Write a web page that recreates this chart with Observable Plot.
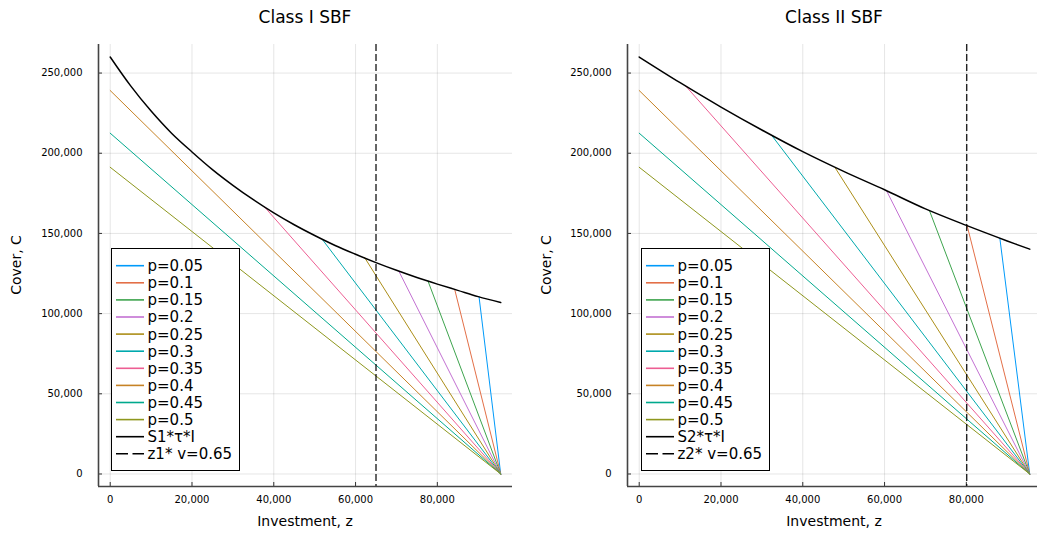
<!DOCTYPE html>
<html><head><meta charset="utf-8">
<script src="https://cdn.jsdelivr.net/npm/d3@7"></script>
<script src="https://cdn.jsdelivr.net/npm/@observablehq/plot@0.6"></script>
<style>
html,body{margin:0;padding:0;background:#fff;overflow:hidden;}
#wrap{position:relative;width:1037px;height:534px;overflow:hidden;font-family:"DejaVu Sans",sans-serif;color:#000;background:#fff;}
.abs{position:absolute;}
.title{font-size:17px;transform:translate(-50%,-50%);white-space:nowrap;}
.xlab{font-size:14px;transform:translate(-50%,-50%);white-space:nowrap;}
.ylab{font-size:14px;transform:translate(-50%,-50%) rotate(-90deg);white-space:nowrap;}
.legend{background:#fff;border:1px solid #000;box-sizing:border-box;}
</style></head><body><div id="wrap"></div>
<script>
// ---- data ----
const pLabels = ["p=0.05","p=0.1","p=0.15","p=0.2","p=0.25","p=0.3","p=0.35","p=0.4","p=0.45","p=0.5"];
const zEnd = 95500;
// Class I: start points of each p line (on or below the S1*τ*I curve)
const startZ1 = [90200, 84250, 77700, 70600, 62200, 52000, 37700, 0, 0, 0];
const startC1 = [110400, 115000, 120400, 126400, 135000, 145800, 166600, 239100, 212500, 191250];
// Class II
const startZ2 = [88200, 80200, 71000, 60500, 48000, 32500, 11300, 0, 0, 0];
const startC2 = [146900, 154800, 164100, 176500, 190600, 210800, 242100, 239100, 212500, 191250];
// Black curves S1*τ*I and S2*τ*I
const curveZ1 = [0, 5000, 10000, 15000, 20000, 25000, 30000, 35000, 40000, 45000, 50000, 55000, 60000, 65000, 70000, 75000, 80000, 85000, 90000, 95500];
const curveC1 = [260000, 242000, 226300, 212500, 200800, 189800, 180000, 171000, 162800, 155400, 148700, 142500, 137000, 131800, 127000, 122500, 118400, 114500, 110600, 106900];
const curveZ2 = [0, 10000, 20000, 30000, 40000, 50000, 60000, 70000, 80000, 90000, 95500];
const curveC2 = [260000, 244000, 228800, 214500, 201000, 188700, 177200, 165300, 155000, 145300, 140200];
const zStar1 = 65000, zStar2 = 80100;
const curveLabel1 = "S1*τ*I", curveLabel2 = "S2*τ*I";
const starLabel1 = "z1* v=0.65", starLabel2 = "z2* v=0.65";
const titles = ["Class I SBF", "Class II SBF"];
const xTicks = [0, 20000, 40000, 60000, 80000];
const yTicks = [0, 50000, 100000, 150000, 200000, 250000];

// ---- styles ----
const colors = ["#009AFA","#E36F47","#3EA44E","#C371D2","#AC8E18","#00A9AD","#ED5E93","#C68225","#00A98D","#8E971E"];
const W = 520, H = 534, ML = 98, MR = 8, MT = 44, MB = 48;
const xDomain = [-2865, 98380], yDomain = [-7800, 267800];
const fmt = d3.format(",");

function panel(startZ, startC, curveZ, curveC, zStar) {
  const seg = [];
  pLabels.forEach((p, i) => {
    seg.push({p, z: startZ[i], C: startC[i]});
    seg.push({p, z: zEnd, C: 0});
  });
  const curve = curveZ.map((z, i) => ({z, C: curveC[i]}));
  const innerW = W - ML - MR, innerH = H - MT - MB;
  return Plot.plot({
    width: W, height: H, marginLeft: ML, marginRight: MR, marginTop: MT, marginBottom: MB,
    x: {domain: xDomain},
    y: {domain: yDomain},
    color: {domain: pLabels, range: colors},
    style: {fontFamily: "DejaVu Sans", fontSize: "10px", background: "transparent", color: "#000", overflow: "visible"},
    marks: [
      Plot.gridX(xTicks, {stroke: "#000", strokeOpacity: 0.1, strokeWidth: 1}),
      Plot.gridY(yTicks, {stroke: "#000", strokeOpacity: 0.1, strokeWidth: 1}),
      Plot.axisX(xTicks, {tickSize: 0, tickPadding: 9, tickFormat: fmt, label: null, fontSize: 10}),
      Plot.axisY(yTicks, {tickSize: 0, tickPadding: 16, tickFormat: fmt, label: null, fontSize: 10}),
      Plot.tickX(xTicks, {x: d => d, insetTop: innerH - 4, stroke: "#333"}),
      Plot.tickY(yTicks, {y: d => d, insetRight: innerW - 4, stroke: "#333"}),
      Plot.line(seg, {x: "z", y: "C", z: "p", stroke: "p", strokeWidth: 1}),
      Plot.line(curve, {x: "z", y: "C", stroke: "#000", strokeWidth: 1.5, curve: "catmull-rom"}),
      Plot.ruleX([zStar], {stroke: "#000", strokeWidth: 1.2, strokeDasharray: "7,3"}),
      Plot.ruleX([xDomain[0]], {stroke: "#444", strokeWidth: 1.6}),
      Plot.ruleY([yDomain[0]], {stroke: "#444", strokeWidth: 1.6})
    ]
  });
}

function legend(left, curveLabel, starLabel) {
  const div = document.createElement("div");
  div.className = "abs legend";
  Object.assign(div.style, {left: left + "px", top: "248px", width: "129px", height: "223px"});
  const items = pLabels.map((p, i) => ({label: p, color: colors[i], dash: null}))
    .concat([{label: curveLabel, color: "#000", dash: null}, {label: starLabel, color: "#000", dash: "12,4.5"}]);
  const svg = d3.create("svg").attr("width", 127).attr("height", 221).style("display", "block");
  items.forEach((it, i) => {
    const cy = 16.7 + i * 17.1;
    svg.append("line").attr("x1", 4).attr("x2", 32).attr("y1", cy).attr("y2", cy)
      .attr("stroke", it.color).attr("stroke-width", 1.6).attr("stroke-dasharray", it.dash);
    svg.append("text").attr("x", 35.5).attr("y", cy).attr("dy", "0.36em")
      .attr("font-family", "DejaVu Sans").attr("font-size", 15).attr("fill", "#000").text(it.label);
  });
  div.appendChild(svg.node());
  return div;
}

function addText(cls, x, y, txt) {
  const d = document.createElement("div");
  d.className = "abs " + cls;
  d.style.left = x + "px"; d.style.top = y + "px";
  d.textContent = txt;
  wrap.appendChild(d);
}

const wrap = document.getElementById("wrap");
const p1 = panel(startZ1, startC1, curveZ1, curveC1, zStar1);
p1.style.position = "absolute"; p1.style.left = "0px"; p1.style.top = "0px";
wrap.appendChild(p1);
const p2 = panel(startZ2, startC2, curveZ2, curveC2, zStar2);
p2.style.position = "absolute"; p2.style.left = "529px"; p2.style.top = "0px";
wrap.appendChild(p2);

wrap.appendChild(legend(111, curveLabel1, starLabel1));
wrap.appendChild(legend(641, curveLabel2, starLabel2));

addText("title", 305, 17, titles[0]);
addText("title", 834, 17, titles[1]);
addText("xlab", 305, 521, "Investment, z");
addText("xlab", 834, 521, "Investment, z");
addText("ylab", 16, 265, "Cover, C");
addText("ylab", 546, 265, "Cover, C");
</script>
</body></html>
